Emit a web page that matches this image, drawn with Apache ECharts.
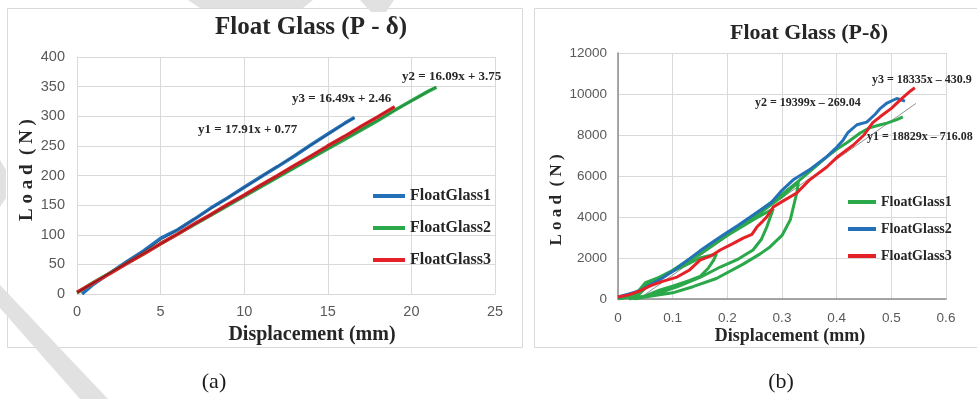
<!DOCTYPE html>
<html>
<head>
<meta charset="utf-8">
<title>Float Glass (P-δ)</title>
<script src="https://cdn.jsdelivr.net/npm/echarts@6/dist/echarts.min.js"></script>
<style>
html, body { margin: 0; padding: 0; background: #fff; }
#main { width: 977px; height: 399px; }
</style>
</head>
<body>
<div id="main"></div>
<script>
// names / colours (Excel default-ish)
var seriesNames = ['FloatGlass1', 'FloatGlass2', 'FloatGlass3'];
var colorsA = ['#2470b9', '#2aa84a', '#e52127'];
var colorsB = ['#2aa84a', '#2470b9', '#e52127'];

// tick labels
var xTicksA = [0, 5, 10, 15, 20, 25];
var yTicksA = [0, 50, 100, 150, 200, 250, 300, 350, 400];
var xTicksB = [0, 0.1, 0.2, 0.3, 0.4, 0.5, 0.6];
var yTicksB = [0, 2000, 4000, 6000, 8000, 10000, 12000];

// (a) displacement (mm) / load (N)
var glassA1 = [[0.3, 0], [1, 17], [2, 36], [3, 55], [4, 73], [5, 94], [5.5, 101], [6, 108], [7, 126], [8, 145],
    [9, 162], [10, 180], [11, 198], [12, 215], [13, 233], [14, 252], [15, 270], [16, 288], [16.6, 298]];
var glassA2 = [[0, 2], [1, 20], [2, 36], [3, 52], [4, 68], [5, 85], [6, 101], [7, 117], [8, 133], [9, 149],
    [10, 165], [11, 181], [12, 197], [13, 213], [14, 229], [15, 245], [16, 261], [17, 277], [18, 293],
    [19, 310], [20, 326], [21, 342], [21.5, 349]];
var glassA3 = [[0, 3], [1, 19], [2, 35], [3, 52], [4, 68], [5, 85], [6, 101], [7, 118], [8, 134], [9, 151],
    [10, 167], [11, 184], [12, 200], [13, 217], [14, 233], [15, 250], [16, 266], [17, 283], [18, 299], [19, 316]];
// excel trendlines (a), end points only
var trendA1 = [[0, 0.8], [16.6, 298]];
var trendA2 = [[0, 3.8], [21.5, 350]];
var trendA3 = [[0, 2.5], [19, 316]];

// (b) cyclic loading, glass 1 goes up and down 3 times
var glassB1 = [
    [0, 0], [0.03, 150], [0.05, 800], [0.08, 1100], [0.12, 1600], [0.15, 2000], [0.18, 2200],
    [0.175, 1900], [0.165, 1500], [0.15, 1100], [0.13, 900], [0.1, 620], [0.077, 440], [0.05, 150], [0.02, 0],
    [0.05, 700], [0.1, 1400], [0.15, 2200], [0.2, 3100], [0.25, 3900], [0.284, 4400],
    [0.272, 3500], [0.262, 2900], [0.247, 2390], [0.22, 1950], [0.187, 1560], [0.15, 1050], [0.108, 590],
    [0.07, 250], [0.04, 50], [0.03, 0],
    [0.06, 800], [0.1, 1400], [0.15, 2200], [0.2, 3100], [0.25, 4000], [0.3, 5000], [0.33, 5700],
    [0.327, 5170], [0.315, 3850], [0.3, 3100], [0.278, 2540], [0.26, 2200], [0.229, 1700], [0.18, 1000],
    [0.137, 600], [0.1, 300], [0.046, 80], [0.03, 0],
    [0.06, 850], [0.1, 1400], [0.2, 3150], [0.3, 5100], [0.33, 5750], [0.35, 6200], [0.382, 6930],
    [0.4, 7300], [0.42, 7650], [0.443, 8100], [0.46, 8350], [0.48, 8500], [0.492, 8580], [0.51, 8750], [0.521, 8880]
];
var glassB2 = [[0, 100], [0.02, 250], [0.04, 400], [0.06, 700], [0.08, 1000], [0.1, 1350], [0.12, 1750],
    [0.15, 2350], [0.18, 2900], [0.2, 3250], [0.22, 3600], [0.25, 4150], [0.28, 4700], [0.3, 5300],
    [0.32, 5800], [0.35, 6300], [0.38, 6900], [0.4, 7400], [0.412, 7760], [0.42, 8100], [0.437, 8500],
    [0.455, 8630], [0.47, 9000], [0.48, 9300], [0.492, 9560], [0.51, 9780], [0.525, 9650]];
var glassB3 = [[0, 100], [0.02, 200], [0.04, 400], [0.06, 650], [0.08, 850], [0.108, 1070], [0.13, 1400],
    [0.15, 1900], [0.17, 2100], [0.187, 2390], [0.21, 2700], [0.229, 2970], [0.245, 3150], [0.254, 3510],
    [0.265, 3800], [0.272, 4000], [0.284, 4490], [0.3, 4750], [0.327, 5170], [0.35, 5800], [0.382, 6440],
    [0.4, 6900], [0.43, 7500], [0.45, 8000], [0.466, 8600], [0.48, 8900], [0.5, 9300], [0.52, 9800],
    [0.535, 10150], [0.543, 10300]];
var trendB1 = [[0.04, 40], [0.545, 9540]];

var serif = 'Liberation Serif';
var sans = 'Liberation Sans';

function lineSeries(name, data, color, idx, width, z) {
    return {
        name: name,
        type: 'line',
        xAxisIndex: idx,
        yAxisIndex: idx,
        data: data,
        symbol: 'none',
        z: z || 2,
        lineStyle: { color: color, width: width },
        itemStyle: { color: color }
    };
}

function valueAxis(ticks, grid, labelMargin, axisColor, axisWidth, size) {
    return {
        type: 'value',
        gridIndex: grid,
        min: ticks[0],
        max: ticks[ticks.length - 1],
        interval: ticks[1] - ticks[0],
        axisLine: { show: true, lineStyle: { color: axisColor, width: axisWidth } },
        axisTick: { show: false },
        splitLine: { show: true, lineStyle: { color: '#d9d9d9', width: 1 } },
        axisLabel: {
            color: '#595959', fontFamily: sans, fontSize: size, margin: labelMargin,
            // no thousands separator, like excel
            formatter: function (v) { return String(parseFloat(v.toFixed(4))); }
        }
    };
}

function legendData(colors) {
    var out = [];
    for (var i = 0; i < seriesNames.length; i++) {
        out.push({ name: seriesNames[i], itemStyle: { color: colors[i] } });
    }
    return out;
}

// plain text for titles, axis names, equations
function txt(text, x, y, size, opts) {
    opts = opts || {};
    return {
        type: 'text',
        x: x,
        y: y,
        rotation: opts.rotation || 0,
        silent: true,
        z: 50,
        style: {
            text: text,
            font: (opts.normal ? '' : 'bold ') + size + 'px "' + serif + '"',
            fill: opts.color || '#262626',
            align: opts.align || 'center',
            textAlign: opts.align || 'center',
            verticalAlign: 'middle',
            textVerticalAlign: 'middle'
        }
    };
}

function stripe(points) {
    return { type: 'polygon', silent: true, z: 100, shape: { points: points }, style: { fill: '#e1e1e1' } };
}

var chart = echarts.init(document.getElementById('main'));

var option = {
    animation: false,
    backgroundColor: '#fff',
    grid: [
        { left: 77, top: 57, width: 418, height: 237 },
        { left: 618, top: 53, width: 328, height: 246 }
    ],
    xAxis: [
        valueAxis(xTicksA, 0, 10, '#d9d9d9', 1, 14.5),
        valueAxis(xTicksB, 1, 12, '#8c8c8c', 1.5, 13.5)
    ],
    yAxis: [
        valueAxis(yTicksA, 0, 12, '#d9d9d9', 1, 14.5),
        valueAxis(yTicksB, 1, 11, '#8c8c8c', 1.5, 13.5)
    ],
    legend: [
        {
            orient: 'vertical', left: 373, top: 188, padding: 0, itemWidth: 32, itemHeight: 4, itemGap: 16,
            icon: 'rect', data: legendData(colorsA),
            textStyle: { fontFamily: serif, fontWeight: 'bold', fontSize: 16, lineHeight: 16, color: '#262626' }
        },
        {
            orient: 'vertical', left: 848, top: 195, padding: 0, itemWidth: 28, itemHeight: 4, itemGap: 13,
            icon: 'rect', data: legendData(colorsB),
            textStyle: { fontFamily: serif, fontWeight: 'bold', fontSize: 14, lineHeight: 14, color: '#262626' }
        }
    ],
    series: [
        lineSeries(seriesNames[0], glassA1, colorsA[0], 0, 3.5),
        lineSeries(seriesNames[1], glassA2, colorsA[1], 0, 3.5),
        lineSeries(seriesNames[2], glassA3, colorsA[2], 0, 3.5),
        lineSeries('trend1', trendA1, 'rgba(20,20,20,0.35)', 0, 1, 3),
        lineSeries('trend2', trendA2, 'rgba(20,20,20,0.25)', 0, 1, 3),
        lineSeries('trend3', trendA3, 'rgba(20,20,20,0.35)', 0, 1, 3),
        lineSeries('trendB', trendB1, '#8f8f8f', 1, 1, 1),
        lineSeries(seriesNames[0], glassB1, colorsB[0], 1, 3),
        lineSeries(seriesNames[1], glassB2, colorsB[1], 1, 3),
        lineSeries(seriesNames[2], glassB3, colorsB[2], 1, 3)
    ],
    graphic: [
        // panel frames
        { type: 'rect', silent: true, z: 0, shape: { x: 7.5, y: 8.5, width: 515, height: 339 },
            style: { fill: 'none', stroke: '#d9d9d9', lineWidth: 1 } },
        { type: 'rect', silent: true, z: 0, shape: { x: 534.5, y: 8.5, width: 460, height: 339 },
            style: { fill: 'none', stroke: '#d9d9d9', lineWidth: 1 } },

        // (a)
        txt('Float Glass (P - δ)', 311, 28, 25),
        txt('L o a d  ( N )', 27, 170, 19, { rotation: Math.PI / 2 }),
        txt('Displacement (mm)', 312, 335, 20),
        txt('y1 = 17.91x + 0.77', 198, 130, 13, { align: 'left' }),
        txt('y3 = 16.49x + 2.46', 292, 99, 13, { align: 'left' }),
        txt('y2 = 16.09x + 3.75', 402, 77, 13, { align: 'left' }),
        txt('(a)', 214, 382, 22, { normal: true, color: '#1a1a1a' }),

        // (b)
        txt('Float Glass (P-δ)', 809, 33, 22),
        txt('L o a d  ( N )', 557, 200, 17, { rotation: Math.PI / 2 }),
        txt('Displacement (mm)', 790, 336, 18),
        txt('y3 = 18335x – 430.9', 872, 80, 12, { align: 'left' }),
        txt('y2 = 19399x – 269.04', 755, 103, 12, { align: 'left' }),
        txt('y1 = 18829x – 716.08', 867, 137, 12, { align: 'left' }),
        txt('(b)', 781, 382, 22, { normal: true, color: '#1a1a1a' }),

        // watermark bits
        stripe([[0, 285], [0, 308], [80, 399], [108, 399]]),
        stripe([[0, 160], [6, 170], [6, 198], [0, 207]]),
        stripe([[188, 0], [313, 0], [303, 8], [200, 8]]),
        stripe([[360, 0], [394, 0], [386, 12], [371, 12]])
    ]
};

chart.setOption(option);
</script>
</body>
</html>
